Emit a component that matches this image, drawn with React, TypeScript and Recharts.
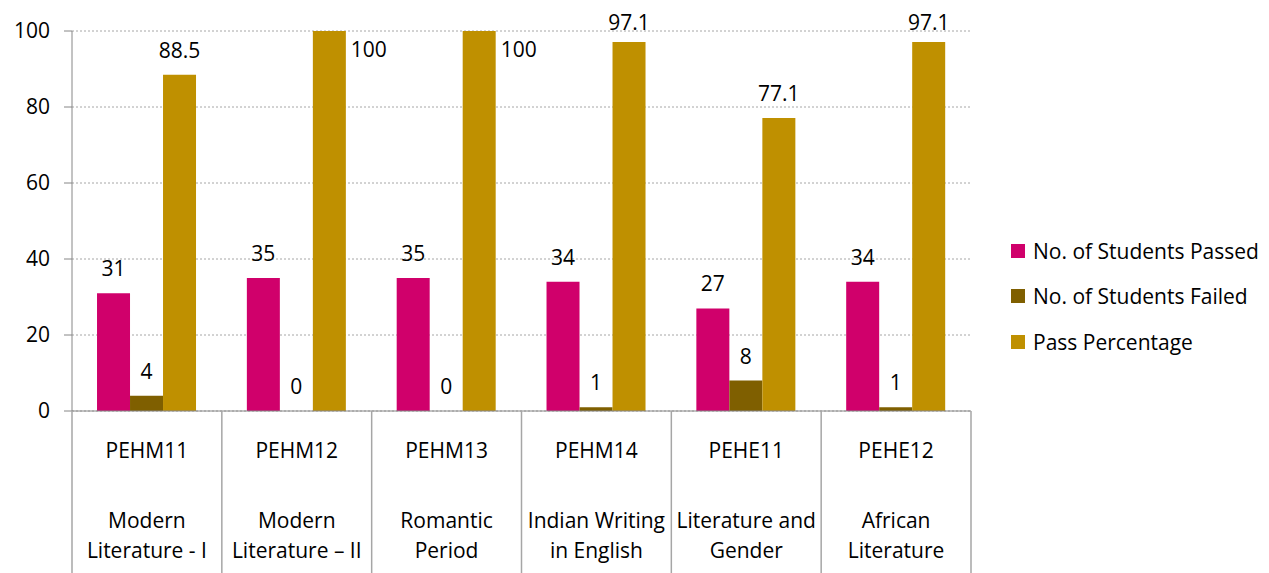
import { BarChart, Bar, XAxis, YAxis, CartesianGrid, LabelList } from "recharts";

const codes = ["PEHM11", "PEHM12", "PEHM13", "PEHM14", "PEHE11", "PEHE12"];
const titles = [
  ["Modern", "Literature - I"],
  ["Modern", "Literature – II"],
  ["Romantic", "Period"],
  ["Indian Writing", "in English"],
  ["Literature and", "Gender"],
  ["African", "Literature"],
];
const passed = [31, 35, 35, 34, 27, 34];
const failed = [4, 0, 0, 1, 8, 1];
const passPct = [88.5, 100, 100, 97.1, 77.1, 97.1];
const yTicks = [0, 20, 40, 60, 80, 100];

const SERIES = [
  { key: "passed", name: "No. of Students Passed", color: "#D0006B" },
  { key: "failed", name: "No. of Students Failed", color: "#7F5F00" },
  { key: "pct", name: "Pass Percentage", color: "#BF9000" },
];

const data = codes.map((code, i) => ({
  code,
  passed: passed[i],
  failed: failed[i],
  pct: passPct[i],
}));

const FONT = "'Open Sans', 'Noto Sans', sans-serif";
const FS = 21;
const W = 1269;
const H = 573;
const LEFT = 72;
const RIGHT = 298;
const BAND = (W - LEFT - RIGHT) / codes.length;
// labels can't go above the top of the chart
const MIN_BASELINE = 30;

const CatTick = (props: any) => {
  const { x, y, payload, index } = props;
  const i = payload.index ?? index;
  const left = x - BAND / 2;
  const right = x + BAND / 2;
  return (
    <g>
      <line x1={left} y1={y} x2={left} y2={y + 170} stroke="#a6a6a6" strokeWidth={1.5} />
      {i === codes.length - 1 && (
        <line x1={right} y1={y} x2={right} y2={y + 170} stroke="#a6a6a6" strokeWidth={1.5} />
      )}
      <text x={x} y={y + 39} textAnchor="middle" dominantBaseline="central" fontSize={FS} fill="#000" fontFamily={FONT}>
        {payload.value}
      </text>
      {titles[i].map((line, k) => (
        <text key={k} x={x} y={y + 109 + k * 30} textAnchor="middle" dominantBaseline="central" fontSize={FS} fill="#000" fontFamily={FONT}>
          {line}
        </text>
      ))}
    </g>
  );
};

const TopLabel = (props: any) => {
  const { x, y, width, value } = props;
  return (
    <text x={x + width / 2} y={Math.max(y - 17, MIN_BASELINE)} textAnchor="middle" fontSize={FS} fill="#000" fontFamily={FONT}>
      {value}
    </text>
  );
};

const PctLabel = (props: any) => {
  const { x, y, width, value } = props;
  if (value >= 100) {
    return (
      <text x={x + width + 5} y={y + 26} fontSize={FS} fill="#000" fontFamily={FONT}>
        {value}
      </text>
    );
  }
  return <TopLabel {...props} />;
};

export default function App() {
  return (
    <div style={{ position: "absolute", left: 0, top: 0, width: W, height: H, overflow: "hidden", background: "#fff" }}>
      <BarChart
        width={W}
        height={H}
        data={data}
        margin={{ top: 31, right: RIGHT, bottom: 0, left: 0 }}
        barCategoryGap="16.7%"
        barGap={0}
      >
        <CartesianGrid vertical={false} stroke="#a6a6a6" strokeDasharray="2 2" />
        <YAxis
          width={LEFT}
          domain={[0, 100]}
          ticks={yTicks}
          tickSize={8}
          tickMargin={14}
          stroke="#868686"
          tick={{ fill: "#000", fontSize: FS, fontFamily: FONT }}
        />
        <XAxis
          dataKey="code"
          height={162}
          tickLine={false}
          tickSize={0}
          tickMargin={0}
          stroke="#868686"
          interval={0}
          tick={<CatTick />}
        />
        <Bar dataKey="passed" fill={SERIES[0].color} isAnimationActive={false}>
          <LabelList dataKey="passed" content={<TopLabel />} />
        </Bar>
        <Bar dataKey="failed" fill={SERIES[1].color} minPointSize={0.01} isAnimationActive={false}>
          <LabelList dataKey="failed" content={<TopLabel />} />
        </Bar>
        <Bar dataKey="pct" fill={SERIES[2].color} isAnimationActive={false}>
          <LabelList dataKey="pct" content={<PctLabel />} />
        </Bar>
      </BarChart>
      <div style={{ position: "absolute", left: 1011, top: 228, fontFamily: FONT, fontSize: FS, color: "#000" }}>
        {SERIES.map((s) => (
          <div key={s.key} style={{ display: "flex", alignItems: "center", height: 45.5, whiteSpace: "nowrap" }}>
            <span style={{ width: 14, height: 14, background: s.color, marginRight: 8, display: "inline-block" }} />
            <span>{s.name}</span>
          </div>
        ))}
      </div>
    </div>
  );
}
